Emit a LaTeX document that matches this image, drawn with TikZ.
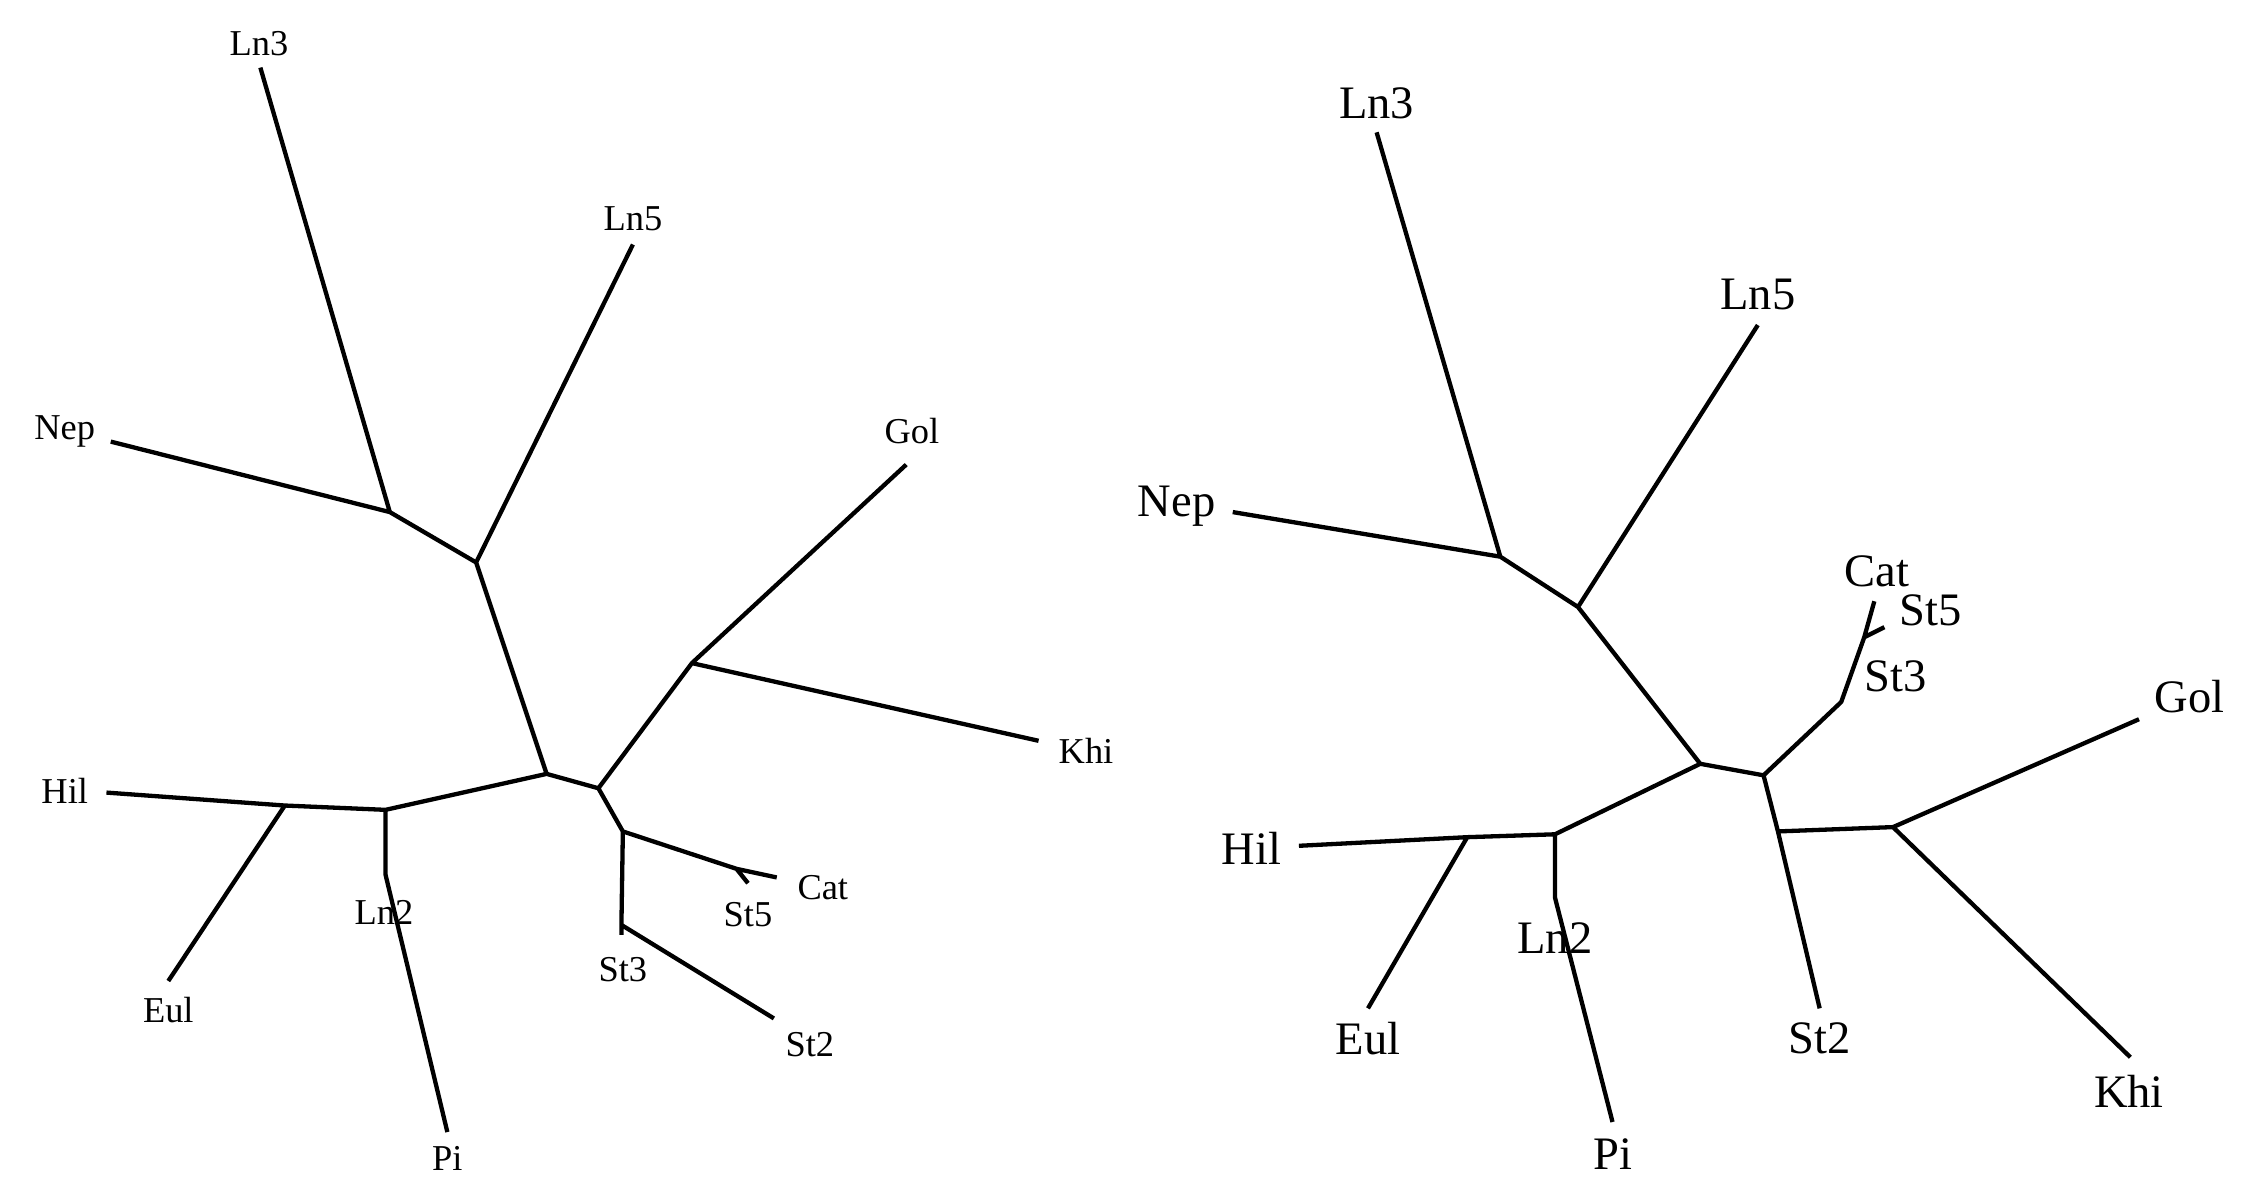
\documentclass[tikz,border=0pt]{standalone}
\usepackage{fontspec}
\setmainfont{Liberation Serif}
\begin{document}
\begin{tikzpicture}[x=0.01cm,y=-0.01cm,line width=0.85pt,line join=round,
  br/.style={draw},
  lsm/.style={font=\fontsize{7.2}{8}\selectfont,inner sep=0pt},
  lbg/.style={font=\fontsize{9.2}{10}\selectfont,inner sep=0pt}]
\useasboundingbox (0,0) rectangle (1560,831);
% ---- left tree
\foreach \n/\x/\y in {a/271/356,b/331/391,c/380/538,d/416/548,e/481/461,f/433/578,g/268/563,h/198/560,
 ln3/181/47,ln5/440/170,nep/77/307,gol/630/323,khi/722/515,hil/74/551,eul/117/682,ln2/268/608,pi/311/787,
 s3/432/643,s3t/432/650,st2/538/708,cs/512/604,cat/540/610,st5/520/614}
 \coordinate (L\n) at (\x,\y);
\draw (Lln3)--(La)--(Lnep) (La)--(Lb)--(Lln5) (Lb)--(Lc)--(Ld)--(Le)--(Lgol) (Le)--(Lkhi)
 (Ld)--(Lf)--(Ls3)--(Lst2) (Ls3)--(Ls3t) (Lf)--(Lcs)--(Lcat) (Lcs)--(Lst5)
 (Lc)--(Lg)--(Lh)--(Lhil) (Lh)--(Leul) (Lg)--(Lln2)--(Lpi);
\node[lsm] (tLn3) at (180,30) {Ln3};
\node[lsm] (tLn5) at (440,152) {Ln5};
\node[lsm] (tNep) at (45,300) {Nep};
\node[lsm] (tGol) at (634,300) {Gol};
\node[lsm] (tKhi) at (755,522) {Khi};
\node[lsm] (tHil) at (45,550) {Hil};
\node[lsm] (tEul) at (117,702) {Eul};
\node[lsm] (tLn2) at (267,634) {Ln2};
\node[lsm] (tPi) at (311,805) {Pi};
\node[lsm] (tSt3) at (433,674) {St3};
\node[lsm] (tSt2) at (563,726) {St2};
\node[lsm] (tSt5) at (520,636) {St5};
\node[lsm] (tCat) at (572,617) {Cat};
% ---- right tree
\foreach \n/\x/\y in {a/1043/387,b/1097/422,c/1182/531,d/1226/539,e/1280/488,e2/1296/443,f/1236/578,g/1316/575,
 h/1081/580,i/1020/582,ln3/957/92,ln5/1222/226,nep/857/356,gol/1487/500,khi/1481/735,st2/1265/701,
 st3/1288/465,st5/1310/436,cat/1303/418,hil/903/588,eul/951/701,ln2/1081/624,pi/1121/780}
 \coordinate (R\n) at (\x,\y);
\draw (Rln3)--(Ra)--(Rnep) (Ra)--(Rb)--(Rln5) (Rb)--(Rc)--(Rd)--(Re)--(Re2)--(Rst5) (Re2)--(Rcat)
 (Rd)--(Rf)--(Rst2) (Rf)--(Rg)--(Rgol) (Rg)--(Rkhi)
 (Rc)--(Rh)--(Ri)--(Rhil) (Ri)--(Reul) (Rh)--(Rln2)--(Rpi);
\node[lbg] (rLn3) at (957,72) {Ln3};
\node[lbg] (rLn5) at (1222,205) {Ln5};
\node[lbg] (rNep) at (818,352) {Nep};
\node[lbg] (rCat) at (1305,397) {Cat};
\node[lbg] (rSt5) at (1342,424) {St5};
\node[lbg] (rSt3) at (1318,470) {St3};
\node[lbg] (rGol) at (1522,484) {Gol};
\node[lbg] (rKhi) at (1480,759) {Khi};
\node[lbg] (rSt2) at (1265,722) {St2};
\node[lbg] (rHil) at (870,590) {Hil};
\node[lbg] (rEul) at (951,722) {Eul};
\node[lbg] (rLn2) at (1081,652) {Ln2};
\node[lbg] (rPi) at (1121,802) {Pi};
\end{tikzpicture}
\end{document}
